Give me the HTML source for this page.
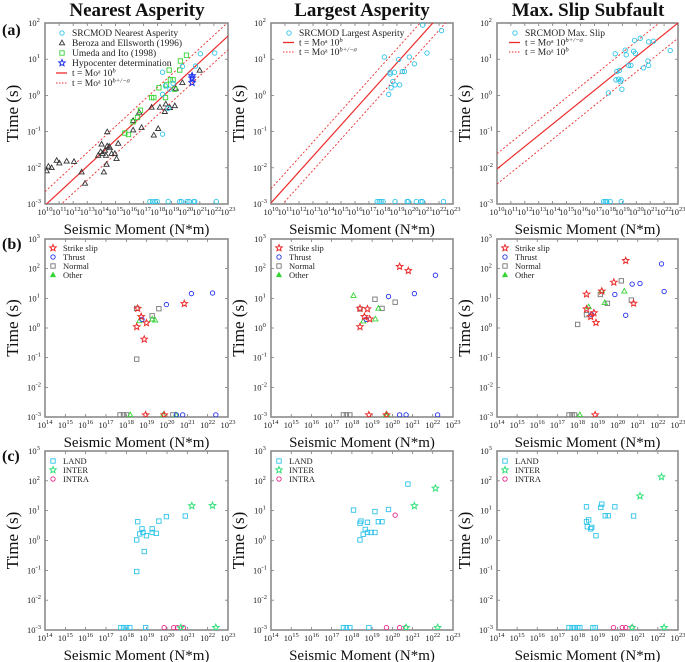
<!DOCTYPE html>
<html><head><meta charset="utf-8">
<style>
html,body{margin:0;padding:0;background:#fff;}
svg{display:block;font-family:"Liberation Serif",serif;}
</style></head>
<body>
<svg id="fig" width="685" height="662" viewBox="0 0 685 662" xmlns="http://www.w3.org/2000/svg"></svg>
<script>
// ---------- DATA (log10 of moment, log10 of time) ----------
// Row (a) panel 1
const aNearX=[18.35,19.76,21.04,22.06,20.69,18.56,18.87,19.10,18.35,18.35,18.75,17.45,17.64,17.82,17.97,18.75,19.57,19.69,20.09,20.24,20.57,20.64,22.17];
const aNearY=[0.64,0.80,1.15,1.17,0.81,0.26,0.17,0.33,0.03,-1.07,-0.36,-2.93,-2.93,-2.93,-2.93,-2.93,-2.93,-2.93,-2.93,-2.93,-2.93,-2.93,-2.93];
const berozaX=[10.12,10.24,10.47,10.83,11.02,11.54,12.06,12.60,12.84,13.78,13.95,14.02,14.09,14.26,14.33,14.18,14.37,14.42,14.56,14.61,14.73,14.96,15.08,15.20,14.42,16.26,16.26,16.69,16.86,17.57,17.73,18.04,18.16,18.51,18.58,18.87,19.22,19.29,19.76,20.99];
const berozaY=[-2.09,-1.96,-2.0,-1.80,-1.87,-1.82,-1.83,-2.12,-2.43,-1.66,-1.56,-1.35,-1.61,-1.52,-1.66,-2.12,-1.91,-1.40,-1.41,-1.45,-1.61,-1.61,-1.75,-1.33,-1.01,-0.70,-0.96,-0.47,-0.89,-0.33,-1.10,-0.92,-0.33,-0.45,-0.24,-0.34,-0.29,0.19,0.35,0.69];
const umedaX=[15.67,15.93,16.26,16.57,16.78,17.57,17.73,18.09,18.56,18.63,18.82,18.91,19.10,19.22,19.57,19.62,20.05];
const umedaY=[-1.04,-1.08,-0.73,-0.61,-0.41,-0.06,-0.06,0.21,-0.06,0.29,0.70,0.43,0.43,0.17,0.70,0.95,1.11];
const hypoX=[20.45,20.45,20.45];
const hypoY=[0.54,0.48,0.35];
// Row (a) panel 2
const aLargX=[18.10,18.51,18.51,18.82,19.12,19.38,19.53,19.88,20.24,21.14,20.83,22.18,18.41,18.58,18.70,18.86,19.19,17.58,17.73,17.87,18.01,18.86,19.72,19.81,20.38,20.71,20.81,22.32];
const aLargY=[1.06,0.64,0.59,0.64,0.99,0.66,0.66,1.06,0.87,1.17,1.94,1.79,0.03,0.21,0.38,0.29,0.29,-2.93,-2.93,-2.93,-2.93,-2.93,-2.93,-2.93,-2.93,-2.93,-2.93,-2.93];
// Row (a) panel 3
const aMaxX=[18.49,18.54,18.61,18.73,18.80,18.92,18.85,18.97,18.01,19.21,19.28,19.45,19.62,19.88,20.29,19.81,19.93,20.53,20.89,20.84,20.89,21.24,22.44,17.66,17.78,17.89,18.13,18.92];
const aMaxY=[1.15,0.43,0.66,0.45,0.69,0.43,0.38,0.17,0.07,1.25,1.12,0.83,0.83,1.52,1.58,1.22,1.16,0.76,1.48,0.95,0.83,1.50,1.24,-2.93,-2.93,-2.93,-2.93,-2.93];
// Scaling-law fits: slope a, intercept b, sigma
const fitA=[0.36,0.43,0.31];
const fitB=[-6.64,-7.27,-5.13];
const fitS=[0.38,0.39,0.42];
// Row (b)
const b1={ss:[[18.51,18.56,18.73,18.99,18.88,20.85,18.95,19.86],[0.04,0.66,0.38,0.17,-0.38,0.82,-2.93,-2.93]],
 th:[[18.77,19.97,21.20,22.24,20.46,20.77,22.40],[0.29,0.79,1.16,1.18,-2.93,-2.93,-2.93]],
 no:[[18.51,18.51,19.27,19.60,17.69,17.86,18.01,20.29],[0.66,-1.05,0.41,0.65,-2.93,-2.93,-2.93,-2.93]],
 ot:[[18.64,19.27,19.42,18.19,19.81,20.44],[0.24,0.30,0.26,-2.93,-2.93,-2.93]]};
const b2={ss:[[18.40,18.40,18.62,18.77,18.88,20.36,20.79,18.84,19.71],[0.04,0.66,0.38,0.64,0.30,2.07,1.93,-2.93,-2.93]],
 th:[[18.71,19.81,21.09,22.13,20.36,20.68,22.24],[0.29,1.06,1.16,1.78,-2.93,-2.93,-2.93]],
 no:[[18.40,19.14,19.49,20.14,17.58,17.73,17.90],[0.64,0.97,0.66,0.87,-2.93,-2.93,-2.93]],
 ot:[[18.08,18.56,19.16,19.31,19.68,19.75],[1.09,0.23,0.30,0.66,-2.93,-2.93]]};
const b3={ss:[[18.45,18.45,18.66,18.82,18.92,19.21,19.81,20.40,20.79,18.88],[1.14,0.64,0.38,0.51,0.18,1.24,1.54,2.27,0.83,-2.93]],
 th:[[18.71,19.86,20.40,20.72,21.11,22.18,22.31],[0.45,1.13,0.43,1.48,1.50,2.16,1.23]],
 no:[[18.01,18.45,19.14,19.49,20.18,20.68,17.58,17.73,17.86],[0.12,0.45,1.13,0.83,1.59,0.94,-2.93,-2.93,-2.93]],
 ot:[[18.56,19.21,19.36,20.33,18.12],[0.71,1.25,0.85,1.24,-2.93]]};
// Row (c)
const c1={land:[[18.51,18.56,18.66,18.77,18.82,18.99,18.88,18.51,19.27,19.27,19.47,19.60,19.97,20.90,17.73,17.86,18.01,18.17,18.95],[0.02,0.63,0.22,0.39,0.27,0.16,-0.37,-1.04,0.39,0.27,0.24,0.65,0.80,0.82,-2.92,-2.92,-2.92,-2.92,-2.92]],
 inter:[[21.22,22.24,22.40,20.68],[1.16,1.17,-2.92,-2.92]],
 intra:[[19.86,20.33,20.51,20.81],[-2.92,-2.92,-2.92,-2.92]]};
const c2={land:[[18.08,18.40,18.40,18.45,18.56,18.66,18.77,18.77,18.95,19.14,19.14,19.31,19.49,19.81,20.77,17.58,17.73,17.90,18.84],[1.02,0.02,0.58,0.65,0.21,0.37,0.27,0.61,0.27,0.27,0.97,0.63,0.63,1.04,1.89,-2.92,-2.92,-2.92,-2.92]],
 inter:[[21.09,22.13,22.24,20.68],[1.16,1.75,-2.92,-2.92]],
 intra:[[20.14,19.71,20.36,20.66],[0.85,-2.92,-2.92,-2.92]]};
const c3={land:[[18.45,18.45,18.49,18.56,18.66,18.71,18.92,19.16,19.21,19.38,19.53,19.86,20.79,17.58,17.73,17.86,18.01,18.12,18.77,18.88],[1.13,0.63,0.46,0.69,0.39,0.44,0.16,1.11,1.22,0.83,0.83,1.13,0.82,-2.92,-2.92,-2.92,-2.92,-2.92,-2.92,-2.92]],
 inter:[[21.11,22.18,22.31,20.72],[1.49,2.13,-2.92,-2.92]],
 intra:[[19.79,20.23,20.40,20.72],[-2.92,-2.92,-2.92,-2.92]]};

// ---------- DRAWING ----------
const NS="http://www.w3.org/2000/svg";
const svg=document.getElementById('fig');
function mk(tag,attrs,parent){const e=document.createElementNS(NS,tag);for(const k in attrs)e.setAttribute(k,attrs[k]);(parent||svg).appendChild(e);return e;}
const COL={cyan:'#2fc4ea',black:'#333',green:'#35d435',blue:'#2233ee',red:'#ee2b2b',grey:'#777',inter:'#33e07a',intra:'#e8288a'};

function starPts(cx,cy,r){let p=[];for(let i=0;i<10;i++){const rr=i%2?r*0.45:r;const a=-Math.PI/2+i*Math.PI/5;p.push((cx+rr*Math.cos(a)).toFixed(2)+','+(cy+rr*Math.sin(a)).toFixed(2));}return p.join(' ');}
function marker(g,type,x,y,color){
  let e;
  if(type==='circle') e=mk('circle',{cx:x,cy:y,r:2.2,fill:'none',stroke:color,'stroke-width':0.9},g);
  else if(type==='square') e=mk('rect',{x:x-2.2,y:y-2.2,width:4.4,height:4.4,fill:'none',stroke:color,'stroke-width':0.9},g);
  else if(type==='triangle') e=mk('polygon',{points:`${x},${y-2.8} ${x-2.6},${y+1.8} ${x+2.6},${y+1.8}`,fill:'none',stroke:color,'stroke-width':0.9},g);
  else if(type==='ftriangle') e=mk('polygon',{points:`${x},${y-2.8} ${x-2.6},${y+1.8} ${x+2.6},${y+1.8}`,fill:color,stroke:color,'stroke-width':0.6},g);
  else if(type==='star') e=mk('polygon',{points:starPts(x,y,3.4),fill:'none',stroke:color,'stroke-width':1},g);
  return e;
}
function panel(name,x0,x1,y0,y1,xmin,xmax,ymin,ymax){
  const g=mk('g',{});
  
  
  const sx=v=>x0+(v-xmin)/(xmax-xmin)*(x1-x0);
  const sy=v=>y1-(v-ymin)/(ymax-ymin)*(y1-y0);
  const cid='clip-'+name;
  const cp=mk('clipPath',{id:cid},g);mk('rect',{x:x0,y:y0,width:x1-x0,height:y1-y0},cp);
  // ticks
  for(let d=xmin;d<=xmax;d++){
    const x=sx(d);
    mk('line',{x1:x,x2:x,y1:y1,y2:y1-3,stroke:'#666','stroke-width':0.7},g);
    mk('line',{x1:x,x2:x,y1:y0,y2:y0+3,stroke:'#666','stroke-width':0.7},g);
    const t=mk('text',{x:x,y:y1+11,'font-size':8.5,'text-anchor':'middle',fill:'#222'},g);
    
    
    t.appendChild(document.createTextNode('10'));
    const s=mk('tspan',{dy:-4,'font-size':6.5},t);s.textContent=String(d);
  }
  for(let d=ymin;d<=ymax;d++){
    const y=sy(d);
    mk('line',{x1:x0,x2:x0+3,y1:y,y2:y,stroke:'#666','stroke-width':0.7},g);
    mk('line',{x1:x1,x2:x1-3,y1:y,y2:y,stroke:'#666','stroke-width':0.7},g);
    const t=mk('text',{x:x0-11,y:y+3,'font-size':8.5,'text-anchor':'middle',fill:'#222'},g);
    
    
    t.appendChild(document.createTextNode('10'));
    const s=mk('tspan',{dy:-4,'font-size':6.5},t);s.textContent=String(d);
  }
  const fr=mk('rect',{x:x0,y:y0,width:x1-x0,height:y1-y0,fill:'none',stroke:'#8a8a8a','stroke-width':1.6},g);
  
  
  const yl=mk('text',{x:0,y:0,'font-size':17,'text-anchor':'middle',fill:'#111',transform:`translate(${x0-27},${(y0+y1)/2}) rotate(-90)`},g);
  
  
  yl.textContent='Time (s)';
  const xl=mk('text',{x:(x0+x1)/2,y:y1+30,'font-size':15,'text-anchor':'middle',fill:'#111'},g);
  
  
  xl.textContent='Seismic Moment (N*m)';
  const dg=mk('g',{'clip-path':`url(#${cid})`},g);
  return {g,dg,sx,sy};
}
function series(P,xs,ys,type,color,name){
  for(let i=0;i<xs.length;i++){
    const e=marker(P.dg,type,P.sx(xs[i]),P.sy(ys[i]),color);
    
    
  }
}
function fitLines(P,k,xmin,xmax){
  const a=fitA[k],b=fitB[k],s=fitS[k];
  [[0,'none',1.2,'fit-line'],[s,'2,2',0.9,'fit-upper-sigma'],[-s,'2,2',0.9,'fit-lower-sigma']].forEach(([o,da,w,n])=>{
    const l=mk('line',{x1:P.sx(xmin),y1:P.sy(a*xmin+b+o),x2:P.sx(xmax),y2:P.sy(a*xmax+b+o),stroke:COL.red,'stroke-width':w,'stroke-dasharray':da},P.dg);
    
    
  });
}
function legend(x,y,items,fs,step){
  const g=mk('g',{});
  
  
  items.forEach((it,i)=>{
    const yy=y+i*step;
    if(it.type==='solid'||it.type==='dotted'){
      mk('line',{x1:x-6,x2:x+5,y1:yy,y2:yy,stroke:COL.red,'stroke-width':it.type==='solid'?1.3:1,'stroke-dasharray':it.type==='solid'?'none':'1.5,1.5'},g);
    } else marker(g,it.type,x,yy,it.color);
    const t=mk('text',{x:x+10,y:yy+3.2,'font-size':fs,fill:'#222'},g);
    
    
    if(it.sup){t.appendChild(document.createTextNode(it.label));const s=mk('tspan',{dy:-3.5,'font-size':fs*0.7,'font-style':'italic'},t);s.textContent=it.sup;}
    else t.textContent=it.label;
  });
}
function text(x,y,s,fs,w,name,anchor){const t=mk('text',{x,y,'font-size':fs,'font-weight':w,'text-anchor':anchor||'start',fill:'#111'});t.textContent=s;}

const XS=[[45,228],[271,453],[497,678]];
// titles
text(137,16,'Nearest Asperity',19,'bold','title-nearest','middle');
text(362,16,'Largest Asperity',19,'bold','title-largest','middle');
text(588,16,'Max. Slip Subfault',19,'bold','title-maxslip','middle');
text(2,35,'(a)',16,'bold','row-label-a');
text(2,249,'(b)',16,'bold','row-label-b');
text(2,461,'(c)',16,'bold','row-label-c');

// Row a
const pa=XS.map((c,i)=>panel('panel-a'+(i+1),c[0],c[1],23,204,10,23,-3,2));
pa.forEach((P,i)=>fitLines(P,i,10,23));
series(pa[0],berozaX,berozaY,'triangle',COL.black,'beroza-point');
series(pa[0],umedaX,umedaY,'square',COL.green,'umeda-point');
series(pa[0],aNearX,aNearY,'circle',COL.cyan,'srcmod-nearest-point');
series(pa[0],hypoX,hypoY,'star',COL.blue,'hypocenter-point');
series(pa[1],aLargX,aLargY,'circle',COL.cyan,'srcmod-largest-point');
series(pa[2],aMaxX,aMaxY,'circle',COL.cyan,'srcmod-maxslip-point');
legend(62,33,[{type:'circle',color:COL.cyan,label:'SRCMOD Nearest Asperity'},{type:'triangle',color:COL.black,label:'Beroza and Ellsworth (1996)'},{type:'square',color:COL.green,label:'Umeda and Ito (1998)'},{type:'star',color:COL.blue,label:'Hypocenter determination'},{type:'solid',label:'t = Mo\u1D43 10',sup:'b'},{type:'dotted',label:'t = Mo\u1D43 10',sup:'b+/\u2212\u03C3'}],9.5,10);
legend(289,33,[{type:'circle',color:COL.cyan,label:'SRCMOD Largest Asperity'},{type:'solid',label:'t = Mo\u1D43 10',sup:'b'},{type:'dotted',label:'t = Mo\u1D43 10',sup:'b+/\u2212\u03C3'}],9.5,9.5);
legend(515,33,[{type:'circle',color:COL.cyan,label:'SRCMOD Max. Slip'},{type:'solid',label:'t = Mo\u1D43 10',sup:'b+/\u2212\u03C3'},{type:'dotted',label:'t = Mo\u1D43 10',sup:'b'}],9.5,9.5);

// Row b
const pb=XS.map((c,i)=>panel('panel-b'+(i+1),c[0],c[1],239,417,14,23,-3,3));
[b1,b2,b3].forEach((d,i)=>{
  series(pb[i],d.no[0],d.no[1],'square',COL.grey,'normal-point');
  series(pb[i],d.ot[0],d.ot[1],'triangle',COL.green,'other-point');
  series(pb[i],d.th[0],d.th[1],'circle',COL.blue,'thrust-point');
  series(pb[i],d.ss[0],d.ss[1],'star',COL.red,'strike-slip-point');
  legend(XS[i][0]+8,248,[{type:'star',color:COL.red,label:'Strike slip'},{type:'circle',color:COL.blue,label:'Thrust'},{type:'square',color:COL.grey,label:'Normal'},{type:'ftriangle',color:COL.green,label:'Other'}],8.5,9);
});

// Row c
const pc=XS.map((c,i)=>panel('panel-c'+(i+1),c[0],c[1],451,630,14,23,-3,3));
[c1,c2,c3].forEach((d,i)=>{
  series(pc[i],d.land[0],d.land[1],'square',COL.cyan,'land-point');
  series(pc[i],d.intra[0],d.intra[1],'circle',COL.intra,'intra-point');
  series(pc[i],d.inter[0],d.inter[1],'star',COL.inter,'inter-point');
  legend(XS[i][0]+8,461,[{type:'square',color:COL.cyan,label:'LAND'},{type:'star',color:COL.inter,label:'INTER'},{type:'circle',color:COL.intra,label:'INTRA'}],8.5,9);
});
</script>
</body></html>
